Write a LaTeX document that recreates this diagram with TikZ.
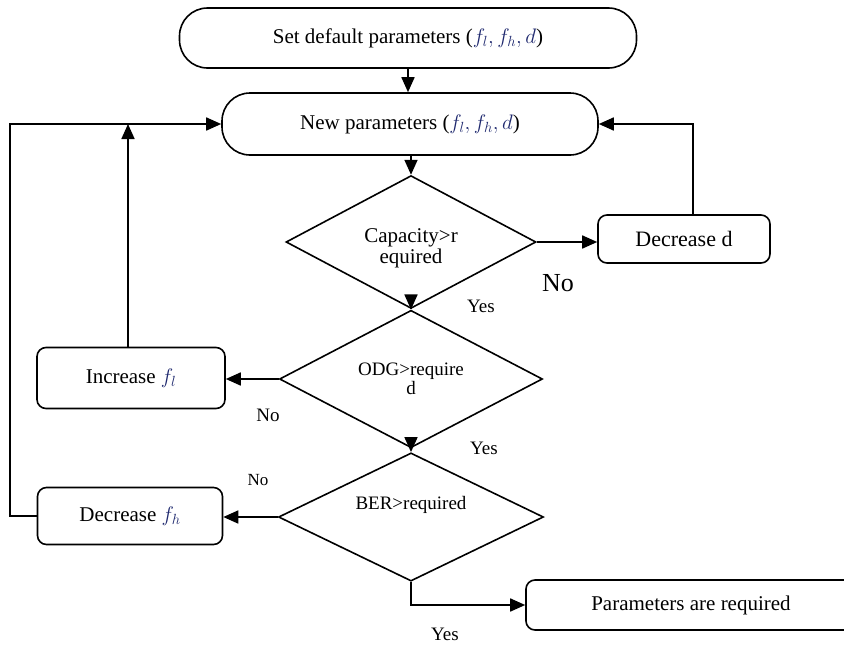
\RequirePackage{fix-cm}
\documentclass[tikz,border=0pt]{standalone}
\usepackage{fontspec}
\setmainfont{Liberation Serif}
\usetikzlibrary{shapes.geometric,arrows.meta}
\definecolor{mathc}{RGB}{30,40,110}
\newcommand{\fsz}[1]{\fontsize{#1}{#1}\selectfont}
\newcommand{\mv}[1]{\textcolor{mathc}{$#1$}}
\begin{document}
\begin{tikzpicture}[x=1pt,y=-1pt,
  line width=1.7pt,
  >={Triangle[length=15pt,width=13pt]},
  every node/.style={font=\fsz{21}},
  term/.style={draw, line width=1.6pt, rounded corners=28pt, minimum width=#1, minimum height=60pt, inner sep=0pt},
  proc/.style={draw, line width=1.6pt, rounded corners=9pt, inner sep=0pt},
  dec/.style={draw, diamond, line width=1.6pt, inner sep=0pt, align=center},
  lab/.style={inner sep=0pt}]
\useasboundingbox (0,0) rectangle (844,646);

\node[term=457pt] (start) at (408,38) {Set default parameters (\mv{f_l, f_h, d})};
\node[term=376pt, minimum height=62pt] (new) at (410,124) {New parameters (\mv{f_l, f_h, d})};
\node[dec, minimum width=250pt, minimum height=110pt, font=\fsz{21}] (d1) at (411,242) {\raisebox{-6pt}[\height][\depth]{Capacity>r}\\\raisebox{-6pt}[\height][\depth]{equired}};
\node[proc, minimum width=172pt, minimum height=48pt, font=\fsz{22}] (decd) at (684,239) {Decrease d};
\node[dec, minimum width=263pt, minimum height=112pt, font=\fsz{19}] (d2) at (411,379) {ODG>require\\d};
\node[proc, minimum width=188pt, minimum height=61pt] (inc) at (131,378) {Increase \mv{f_l}};
\node[dec, minimum width=265pt, minimum height=116pt, font=\fsz{19}] (d3) at (411,517) {\raisebox{12pt}[\height][\depth]{BER>required}};
\node[proc, minimum width=185pt, minimum height=57pt] (decfh) at (130,516) {Decrease \mv{f_h}};
\node[proc, minimum width=330pt, minimum height=50pt] (par) at (691,605) {Parameters are required};

\coordinate (lx) at (10,516);

\draw[->] (start.south) -- (start.south |- new.north);
\draw[->] (d1.north |- new.south) -- (d1.north);
\draw[->] (d1.east) -- (d1.east -| decd.west);
\draw[->] ([xshift=9pt]decd.north) |- (new.east);
\draw[->] (d1.south) -- (d2.north);
\draw[->] (d2.west) -- (d2.west -| inc.east);
\draw[->] ([xshift=-3pt]inc.north) -- ([xshift=-3pt]inc.north |- new.west);
\draw[->] (d2.south) -- (d3.north);
\draw[->] (d3.west) -- (d3.west -| decfh.east);
\draw[->] (decfh.west) -- (lx) |- (new.west);
\draw[->] (d3.south) |- (par.west);

\node[lab, font=\fsz{26}] (no1) at (558,283) {No};
\node[lab, font=\fsz{19}] (yes1) at (481,306) {Yes};
\node[lab, font=\fsz{19}] (no2) at (268,415) {No};
\node[lab, font=\fsz{19}] (yes2) at (484,448) {Yes};
\node[lab, font=\fsz{17}] (no3) at (258,480) {No};
\node[lab, font=\fsz{19}] (yes3) at (445,634) {Yes};
\end{tikzpicture}
\end{document}
